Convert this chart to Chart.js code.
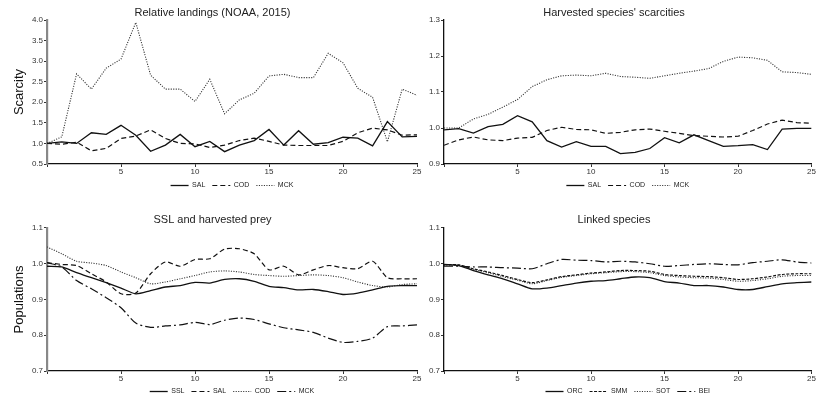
<!DOCTYPE html>
<html>
<head>
<meta charset="utf-8">
<script src="https://cdn.jsdelivr.net/npm/chart.js@4.4.1/dist/chart.umd.min.js"></script>
<style>
body{margin:0;background:#fff;width:816px;height:395px;overflow:hidden;position:relative}
canvas{position:absolute}
</style>
</head>
<body>
<canvas id="landings" style="left:0;top:0" width="424" height="199"></canvas>
<canvas id="scarcity" style="left:416px;top:0" width="400" height="199"></canvas>
<canvas id="prey" style="left:0;top:197px" width="424" height="208"></canvas>
<canvas id="linked" style="left:416px;top:197px" width="400" height="208"></canvas>
<script>
const steps = [0,1,2,3,4,5,6,7,8,9,10,11,12,13,14,15,16,17,18,19,20,21,22,23,24,25]

// Relative landings (NOAA, 2015)
const landSAL = [1.0,1.04,1.0,1.26,1.22,1.44,1.2,0.81,0.96,1.22,0.92,1.05,0.8,0.96,1.07,1.34,0.96,1.31,0.98,1.02,1.15,1.13,0.94,1.53,1.16,1.17]
const landCOD = [1.0,0.98,1.03,0.82,0.88,1.12,1.18,1.33,1.12,1.0,0.99,0.9,0.96,1.07,1.13,1.05,0.96,0.95,0.95,0.95,1.05,1.26,1.37,1.33,1.2,1.21]
const landMCK = [1.0,1.16,2.69,2.32,2.83,3.05,3.94,2.66,2.32,2.32,2.02,2.56,1.72,2.06,2.22,2.64,2.68,2.6,2.6,3.19,2.96,2.34,2.12,1.04,2.32,2.17]

// Harvested species' scarcities
const scarSAL = [0.995,0.998,0.986,1.004,1.01,1.034,1.017,0.965,0.947,0.962,0.949,0.949,0.929,0.932,0.943,0.973,0.959,0.981,0.965,0.949,0.951,0.954,0.94,0.997,0.999,0.999]
const scarCOD = [0.952,0.967,0.975,0.967,0.965,0.972,0.974,0.993,1.002,0.996,0.995,0.985,0.988,0.995,0.997,0.991,0.985,0.979,0.977,0.975,0.977,0.993,1.011,1.022,1.015,1.013]
const scarMCK = [1.0,1.0,1.025,1.038,1.058,1.079,1.115,1.134,1.145,1.147,1.145,1.152,1.143,1.141,1.138,1.145,1.152,1.158,1.165,1.185,1.197,1.195,1.188,1.156,1.154,1.149]

// SSL and harvested prey
const popSSL = [0.993,0.991,0.975,0.961,0.947,0.932,0.916,0.925,0.935,0.939,0.948,0.946,0.956,0.958,0.951,0.937,0.933,0.927,0.928,0.922,0.914,0.918,0.927,0.937,0.939,0.939]
const popSAL = [1.003,0.998,0.995,0.972,0.949,0.916,0.918,0.972,1.005,0.993,1.012,1.014,1.041,1.042,1.028,0.983,0.993,0.969,0.983,0.995,0.989,0.986,1.007,0.961,0.958,0.958]
const popCOD = [1.047,1.028,1.007,1.002,0.995,0.977,0.961,0.944,0.949,0.958,0.967,0.977,0.98,0.977,0.97,0.967,0.965,0.967,0.969,0.967,0.961,0.949,0.939,0.935,0.942,0.944]
const popMCK = [1.003,0.991,0.953,0.93,0.905,0.877,0.834,0.822,0.826,0.829,0.836,0.83,0.842,0.848,0.844,0.832,0.821,0.815,0.808,0.792,0.78,0.783,0.792,0.824,0.826,0.829]

// Linked species
const linkORC = [0.998,0.995,0.981,0.969,0.958,0.944,0.93,0.932,0.939,0.946,0.951,0.953,0.958,0.963,0.961,0.95,0.946,0.939,0.939,0.935,0.928,0.928,0.936,0.944,0.947,0.949]
const linkSMM = [0.997,0.997,0.986,0.977,0.967,0.956,0.947,0.955,0.964,0.969,0.974,0.977,0.981,0.981,0.979,0.97,0.967,0.965,0.964,0.961,0.956,0.958,0.963,0.97,0.972,0.972]
const linkSOT = [0.996,0.996,0.984,0.975,0.964,0.954,0.944,0.953,0.962,0.967,0.972,0.975,0.978,0.978,0.975,0.967,0.963,0.961,0.96,0.956,0.951,0.953,0.958,0.965,0.967,0.967]
const linkBEI = [0.993,0.993,0.991,0.991,0.989,0.988,0.986,1.0,1.012,1.01,1.009,1.005,1.007,1.005,1.0,0.993,0.995,0.998,1.0,0.998,0.997,1.003,1.007,1.011,1.005,1.002]

const fontFamily = '"Liberation Sans", Arial, sans-serif'
Chart.defaults.font.family = fontFamily

const styles = {
    solid: {borderDash: [], borderColor: '#111', borderWidth: 1.3},
    dashed: {borderDash: [5, 3], borderColor: '#111', borderWidth: 1.2},
    shortdash: {borderDash: [3, 1.5], borderColor: '#111', borderWidth: 1.2},
    dotted: {borderDash: [1.1, 1.4], borderColor: '#333', borderWidth: 1.1},
    dashdot: {borderDash: [9, 3, 2, 3], borderColor: '#111', borderWidth: 1.2}
}
const sampleWidth = 18

function series(label, values, style, tension) {
    return Object.assign({
        label: label,
        data: values.map((v, i) => ({x: steps[i], y: v})),
        pointRadius: 0,
        fill: false,
        tension: tension
    }, styles[style])
}

// legend boxes are left empty, this draws the line samples with the dataset dash
const legendLines = {
    id: 'legendLines',
    afterDraw(chart) {
        const ctx = chart.ctx
        chart.legend.legendHitBoxes.forEach((box, i) => {
            const ds = chart.data.datasets[i]
            const y = box.top + box.height / 2
            ctx.save()
            ctx.strokeStyle = ds.borderColor
            ctx.lineWidth = ds.borderWidth
            ctx.setLineDash(ds.borderDash)
            ctx.beginPath()
            ctx.moveTo(box.left, y)
            ctx.lineTo(box.left + sampleWidth, y)
            ctx.stroke()
            ctx.restore()
        })
    }
}

function drawPanel(id, p) {
    return new Chart(document.getElementById(id), {
        type: 'line',
        data: {datasets: p.datasets},
        plugins: [legendLines],
        options: {
            responsive: false,
            animation: false,
            layout: {padding: {left: p.padLeft, right: p.padRight, top: 0, bottom: 0}},
            plugins: {
                title: {
                    display: true,
                    text: p.title,
                    color: '#222',
                    font: {size: 11, weight: 'normal'},
                    padding: p.titlePad
                },
                legend: {
                    position: 'bottom',
                    fullSize: false,
                    labels: {
                        boxWidth: sampleWidth,
                        boxHeight: 0,
                        color: '#222',
                        font: {size: 7},
                        padding: 7,
                        generateLabels: chart => Chart.defaults.plugins.legend.labels.generateLabels(chart)
                            .map(l => Object.assign(l, {fillStyle: 'rgba(0,0,0,0)', strokeStyle: 'rgba(0,0,0,0)', lineWidth: 0}))
                    }
                },
                tooltip: {enabled: false}
            },
            scales: {
                x: {
                    type: 'linear',
                    min: 0,
                    max: 25,
                    afterFit: s => { s.height = p.xHeight },
                    border: {color: '#111', width: 1.3},
                    grid: {drawOnChartArea: false, tickLength: 3, color: '#333'},
                    ticks: {stepSize: 5, padding: 0, color: '#333', font: {size: 8},
                        callback: v => v === 0 ? '' : v}
                },
                y: {
                    min: p.yMin,
                    max: p.yMax,
                    afterFit: s => { s.width = p.yWidth },
                    border: {color: p.yAxisColor, width: p.yAxisWidth},
                    grid: {drawOnChartArea: false, tickLength: 3, color: '#333'},
                    ticks: {stepSize: p.yStep, padding: 1, color: '#333', font: {size: 8},
                        callback: v => v.toFixed(1)},
                    title: {display: !!p.yTitle, text: p.yTitle, color: '#111', font: {size: 13}}
                }
            }
        }
    })
}

drawPanel('landings', {
    title: 'Relative landings (NOAA, 2015)',
    yTitle: 'Scarcity',
    datasets: [
        series('SAL', landSAL, 'solid', 0),
        series('COD', landCOD, 'dashed', 0),
        series('MCK', landMCK, 'dotted', 0)
    ],
    yMin: 0.5, yMax: 4, yStep: 0.5,
    padLeft: 8, padRight: 7, yWidth: 39, xHeight: 11,
    titlePad: {top: 6, bottom: 0.8},
    yAxisColor: '#888', yAxisWidth: 2.2
})

drawPanel('scarcity', {
    title: "Harvested species' scarcities",
    yTitle: '',
    datasets: [
        series('SAL', scarSAL, 'solid', 0),
        series('COD', scarCOD, 'dashed', 0),
        series('MCK', scarMCK, 'dotted', 0)
    ],
    yMin: 0.9, yMax: 1.3, yStep: 0.1,
    padLeft: 0, padRight: 4, yWidth: 28, xHeight: 11,
    titlePad: {top: 6, bottom: 0.8},
    yAxisColor: '#111', yAxisWidth: 1.3
})

drawPanel('prey', {
    title: 'SSL and harvested prey',
    yTitle: 'Populations',
    datasets: [
        series('SSL', popSSL, 'solid', 0.25),
        series('SAL', popSAL, 'dashed', 0.25),
        series('COD', popCOD, 'dotted', 0.25),
        series('MCK', popMCK, 'dashdot', 0.25)
    ],
    yMin: 0.7, yMax: 1.1, yStep: 0.1,
    padLeft: 8, padRight: 7, yWidth: 39, xHeight: 10,
    titlePad: {top: 16.4, bottom: 1.4},
    yAxisColor: '#888', yAxisWidth: 2.2
})

drawPanel('linked', {
    title: 'Linked species',
    yTitle: '',
    datasets: [
        series('ORC', linkORC, 'solid', 0.25),
        series('SMM', linkSMM, 'shortdash', 0.25),
        series('SOT', linkSOT, 'dotted', 0.25),
        series('BEI', linkBEI, 'dashdot', 0.25)
    ],
    yMin: 0.7, yMax: 1.1, yStep: 0.1,
    padLeft: 0, padRight: 4, yWidth: 28, xHeight: 10,
    titlePad: {top: 16.4, bottom: 1.4},
    yAxisColor: '#111', yAxisWidth: 1.3
})
</script>
</body>
</html>
